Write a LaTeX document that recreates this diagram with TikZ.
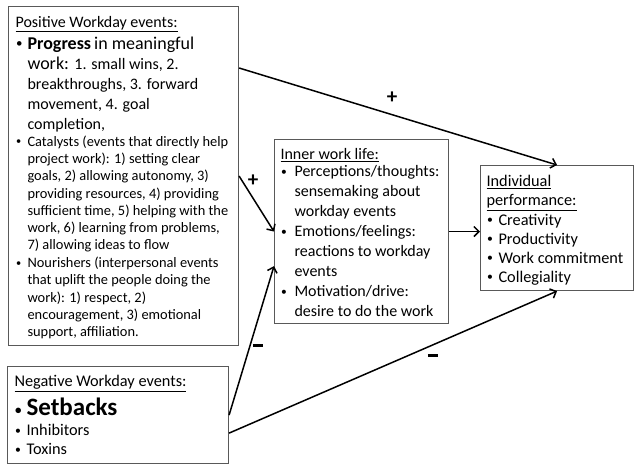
\documentclass[tikz,border=0pt]{standalone}
\usepackage{fontspec}
\setmainfont{Carlito}
\usetikzlibrary{arrows.meta,calc}
\newcommand{\smallbullet}{\raisebox{0.1em}{\scalebox{0.72}{•}}}
\newcommand{\bitem}[2]{\par\hangindent=#1\hangafter=1\noindent\makebox[#1][l]{\hspace{0.5pt}\smallbullet}#2}
\newcommand{\sbitem}[2]{\par\hangindent=#1\hangafter=1\noindent\makebox[#1][l]{\hspace{0.5pt}{\fontsize{18}{18}\selectfont\smallbullet}}#2}
\newcommand{\ulx}[1]{\underline{#1}}
\newcommand{\minussign}{\rule{10.5pt}{3pt}}
\tikzset{
  box/.style={draw=black!65, line width=1.1pt, anchor=north west, inner sep=0pt},
  conn/.style={line width=1.5pt, -{Straight Barb[length=5pt,width=10pt,line width=1.5pt]}},
  sign/.style={font=\bfseries\fontsize{21}{21}\selectfont, inner sep=0pt}
}
\begin{document}
\begin{tikzpicture}[x=1pt,y=-1pt]
\useasboundingbox (0,0) rectangle (640,469);
\fill[white] (0,0) rectangle (640,469);

% Positive box
\node[box, inner xsep=7pt] (pos) at (8,6) {\parbox[c][339pt][t]{216pt}{\raggedright
  \vspace*{10pt}
  {\fontsize{16}{18}\selectfont\ulx{Positive Workday events:}\par}
  \vspace{1.5pt}
  {\fontsize{18}{20}\selectfont\bitem{12pt}{\textbf{Progress}\,in meaningful\newline
   work: {\fontsize{16}{20}\selectfont 1. small wins, 2.\newline
   breakthroughs, 3. forward\newline movement, 4. goal\newline completion,}}\par}
  \vspace{0pt}
  {\fontsize{14.4}{17.25}\selectfont
  \bitem{12pt}{Catalysts (events that directly help\newline project work): 1) setting clear\newline
   goals, 2) allowing autonomy, 3)\newline providing resources, 4) providing\newline
   sufficient time, 5) helping with the\newline work, 6) learning from problems,\newline
   7) allowing ideas to flow}\par
  \vspace{0.5pt}
  \bitem{12pt}{Nourishers (interpersonal events\newline that uplift the people doing the\newline
   work): 1) respect, 2)\newline encouragement, 3) emotional\newline support, affiliation.}\par}
}};

% Negative box
\node[box, inner xsep=7pt] (neg) at (7,366) {\parbox[c][97pt][t]{207pt}{\raggedright
  \vspace*{9pt}
  {\fontsize{16.3}{18}\selectfont\ulx{Negative Workday events:}\par}
  \vspace{3pt}
  {\fontsize{25}{26}\selectfont\bfseries\sbitem{12pt}{Setbacks}\par}
  \vspace{1pt}
  {\fontsize{16.3}{19}\selectfont\bitem{12pt}{Inhibitors}\par
  \bitem{12pt}{Toxins}\par}
}};

% Inner work life box
\node[box, inner xsep=6pt] (inner) at (274,139) {\parbox[c][184pt][t]{162pt}{\raggedright
  \vspace*{9pt}
  {\fontsize{16}{20}\selectfont\ulx{Inner work life:}\par
  \vspace{-3pt}
  \bitem{14pt}{Perceptions/thoughts:\newline sensemaking about\newline workday events}\par
  \bitem{14pt}{Emotions/feelings:\newline reactions to workday\newline events}\par
  \bitem{14pt}{Motivation/drive:\newline desire to do the work}\par}
}};

% Individual performance box
\node[box, inner xsep=6pt] (ind) at (480,165) {\parbox[c][125pt][t]{141pt}{\raggedright
  \vspace*{10pt}
  {\fontsize{16.3}{19.1}\selectfont\ulx{Individual}\par
  \ulx{performance:}\par
  \bitem{12pt}{Creativity}\par
  \bitem{12pt}{Productivity}\par
  \bitem{12pt}{Work commitment}\par
  \bitem{12pt}{Collegiality}\par}
}};

% Connectors
\coordinate (posTop) at ($(pos.north east)+(0,62)$);
\coordinate (innerLow) at ($(inner.south west)+(0,-58)$);
\coordinate (negLow) at ($(neg.south east)+(0,-31)$);
\draw[conn] (posTop) -- (ind.north);
\draw[conn] (pos.east) -- (inner.west);
\draw[conn] (neg.east) -- (innerLow);
\draw[conn] (negLow) -- (ind.south);
\draw[conn] (inner.east) -- (inner.east -| ind.west);

% Signs
\node[sign] (s1) at (392,98) {+};
\node[sign] (s2) at (253,181) {+};
\node[sign] (s3) at (258,345) {\minussign};
\node[sign] (s4) at (433,355) {\minussign};
\end{tikzpicture}
\end{document}
